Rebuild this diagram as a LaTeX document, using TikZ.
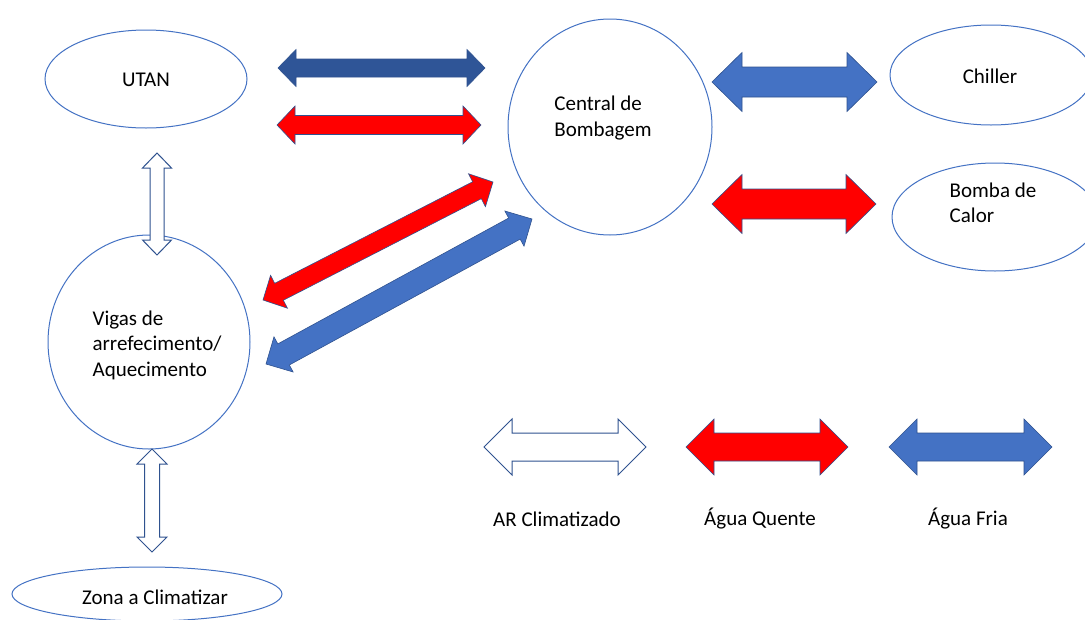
\documentclass[tikz,border=0pt]{standalone}
\usepackage{fontspec}
\setmainfont{Carlito}
\usetikzlibrary{shapes.geometric,calc}

\definecolor{outl}{HTML}{4472C4}
\definecolor{navy}{HTML}{2F5597}
\definecolor{cold}{HTML}{4472C4}
\definecolor{edge}{HTML}{2F528F}
\definecolor{hot}{HTML}{FF0000}

% double-headed block arrow between two points:
% #1 style, #2 start, #3 end, #4 shaft half width, #5 head half width, #6 head length
\newcommand{\blockarrow}[6]{%
  \draw[#1] (#2)
    -- ($(#2)!#6!(#3)!#5!90:(#3)$)
    -- ($(#2)!#6!(#3)!#4!90:(#3)$)
    -- ($(#3)!#6!(#2)!#4!-90:(#2)$)
    -- ($(#3)!#6!(#2)!#5!-90:(#2)$)
    -- (#3)
    -- ($(#3)!#6!(#2)!#5!90:(#2)$)
    -- ($(#3)!#6!(#2)!#4!90:(#2)$)
    -- ($(#2)!#6!(#3)!#4!-90:(#3)$)
    -- ($(#2)!#6!(#3)!#5!-90:(#3)$)
    -- cycle;}

\tikzset{
  unit/.style={ellipse, draw=outl, line width=1pt, inner sep=0pt},
  caption/.style={font=\fontsize{21}{25.5}\selectfont, align=left, inner sep=0pt},
  hollow/.style={draw=edge, fill=white, line width=1pt, line join=miter},
  hotflow/.style={draw=edge, fill=hot, line width=0.6pt, line join=miter},
  coldflow/.style={draw=edge, fill=cold, line width=0.6pt, line join=miter},
  darkflow/.style={draw=edge, fill=navy, line width=0.6pt, line join=miter}
}

\begin{document}
\begin{tikzpicture}[x=1pt, y=-1pt]
  \clip (0,0) rectangle (1085,619);
  \fill[white] (0,0) rectangle (1085,619);

  % equipment
  \node[unit, minimum width=202pt, minimum height=98pt]  (utan)    at (146,79)  {};
  \node[caption] (utan-t) at (146,80) {UTAN};
  \node[unit, minimum width=204pt, minimum height=216pt] (central) at (610,127) {};
  \node[caption] (central-t) at (603,118) {Central de\\Bombagem};
  \node[unit, minimum width=202pt, minimum height=100pt] (chiller) at (991,75)  {};
  \node[caption] (chiller-t) at (990,76) {Chiller};
  \node[unit, minimum width=206pt, minimum height=108pt] (bomba)   at (995,217) {};
  \node[caption] (bomba-t) at (993,203) {Bomba de\\Calor};
  \node[unit, minimum width=202pt, minimum height=214pt] (vigas)   at (149,342) {};
  \node[caption] (vigas-t) at (157,345) {Vigas de\\arrefecimento/\\Aquecimento};
  \node[unit, minimum width=270pt, minimum height=54pt]  (zona)    at (147,594) {};
  \node[caption] (zona-t) at (155,597) {Zona a Climatizar};

  % arrow end points
  \coordinate (a1) at (278,68);  \coordinate (b1) at (485,68);
  \coordinate (a2) at (277,125); \coordinate (b2) at (481,125);
  \coordinate (a3) at (712,82);  \coordinate (b3) at (877,82);
  \coordinate (a4) at (712,204); \coordinate (b4) at (876,204);
  \coordinate (a5) at (263,300); \coordinate (b5) at (493,182);
  \coordinate (a6) at (266,364); \coordinate (b6) at (532,219);
  \coordinate (a7) at (157,153); \coordinate (b7) at (157,255);
  \coordinate (a8) at (152,449); \coordinate (b8) at (152,552);

  % flows between equipment
  \blockarrow{darkflow}{a1}{b1}{9pt}{18.5pt}{18pt}
  \blockarrow{hotflow}{a2}{b2}{9.5pt}{19pt}{18pt}
  \blockarrow{coldflow}{a3}{b3}{15pt}{29.5pt}{30pt}
  \blockarrow{hotflow}{a4}{b4}{15pt}{29.5pt}{30pt}
  \blockarrow{hotflow}{a5}{b5}{9.5pt}{18.5pt}{18pt}
  \blockarrow{coldflow}{a6}{b6}{12pt}{20pt}{20pt}
  \blockarrow{hollow}{a7}{b7}{7pt}{14.5pt}{15pt}
  \blockarrow{hollow}{a8}{b8}{7.5pt}{15pt}{15pt}

  % legend
  \coordinate (la) at (484,447); \coordinate (lb) at (646,447);
  \coordinate (ma) at (686,447); \coordinate (mb) at (848,447);
  \coordinate (na) at (889,447); \coordinate (nb) at (1052,447);
  \blockarrow{hollow}{la}{lb}{14pt}{28pt}{28pt}
  \blockarrow{hotflow}{ma}{mb}{14pt}{28pt}{28pt}
  \blockarrow{coldflow}{na}{nb}{14pt}{28pt}{28pt}
  \node[caption] (leg-ar) at (557,519) {AR Climatizado};
  \node[caption] (leg-hot) at (760,519) {Água Quente};
  \node[caption] (leg-cold) at (968,519) {Água Fria};
\end{tikzpicture}
\end{document}
